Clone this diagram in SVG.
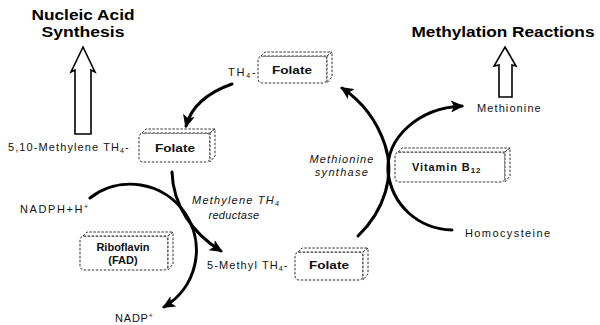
<svg xmlns="http://www.w3.org/2000/svg" width="600" height="325" viewBox="0 0 600 325">
<style>
.title{font-family:"Liberation Sans",Arial,sans-serif;font-weight:bold;font-size:14px;fill:#000}
.lbl{font-family:"Liberation Sans",Arial,sans-serif;font-size:11px;fill:#111}
.ital{font-family:"Liberation Sans",Arial,sans-serif;font-style:italic;font-size:11px;fill:#111}
.btxt{font-family:"Liberation Sans",Arial,sans-serif;font-weight:bold;font-size:11px;fill:#111}
.box{fill:#fff;stroke:#333;stroke-width:1;stroke-dasharray:2.5 1.5}
.conn{fill:none;stroke:#000;stroke-width:3;stroke-linecap:round}
.hollow{fill:#fff;stroke:#000;stroke-width:1.6;stroke-linejoin:miter}
</style>
<defs>
<marker id="ah" markerWidth="15" markerHeight="12" refX="11" refY="6" orient="auto" markerUnits="userSpaceOnUse">
<path d="M0,0 L13,6 L0,12 L3,6 Z" fill="#000"/>
</marker>
</defs>

<g id="title-nucleic">
<text class="title" x="83" y="20" text-anchor="middle" textLength="103" lengthAdjust="spacingAndGlyphs">Nucleic Acid</text>
<text class="title" x="83" y="37" text-anchor="middle" textLength="83" lengthAdjust="spacingAndGlyphs">Synthesis</text>
<polygon class="hollow" points="83,47 95,72 91,70 91,134 75,134 75,70 71,72"/>
</g>

<g id="title-methylation">
<text class="title" x="503" y="37" text-anchor="middle" textLength="183" lengthAdjust="spacingAndGlyphs">Methylation Reactions</text>
<polygon class="hollow" points="505,47 516,66 512,65 512,97 499,97 499,65 494,66"/>
</g>

<g id="folate-top">
<rect class="box" x="258" y="56" width="69" height="27" rx="4"/>
<polygon class="box" points="261,56 265,52 332,52 327,56"/>
<polygon class="box" points="327,56 332,52 332,77 327,83"/>
<text class="btxt" x="292" y="74" text-anchor="middle" textLength="40" lengthAdjust="spacingAndGlyphs">Folate</text>
<text class="lbl" x="228" y="76" letter-spacing="1.8">TH<tspan font-size="7" dy="2">4</tspan><tspan dy="-2">-</tspan></text>
</g>

<g id="folate-left">
<rect class="box" x="139" y="133" width="71" height="29" rx="4"/>
<polygon class="box" points="142,133 146,129 215,129 210,133"/>
<polygon class="box" points="210,133 215,129 215,156 210,162"/>
<text class="btxt" x="175" y="152" text-anchor="middle" textLength="40" lengthAdjust="spacingAndGlyphs">Folate</text>
<text class="lbl" x="8" y="151" font-size="11.5" letter-spacing="1.1">5,10-Methylene TH<tspan font-size="7" dy="2">4</tspan><tspan dy="-2">-</tspan></text>
</g>

<g id="folate-bottom">
<rect class="box" x="295" y="252" width="68" height="28" rx="4"/>
<polygon class="box" points="298,252 302,248 368,248 363,252"/>
<polygon class="box" points="363,252 368,248 368,274 363,280"/>
<text class="btxt" x="329" y="269" text-anchor="middle" textLength="40" lengthAdjust="spacingAndGlyphs">Folate</text>
<text class="lbl" x="207" y="269" font-size="11.5" letter-spacing="1.1">5-Methyl TH<tspan font-size="7" dy="2">4</tspan><tspan dy="-2">-</tspan></text>
</g>

<g id="vitamin-b12">
<rect class="box" x="395" y="152" width="110" height="30" rx="4"/>
<polygon class="box" points="398,152 402,148 510,148 505,152"/>
<polygon class="box" points="505,152 510,148 510,176 505,182"/>
<text class="btxt" x="412" y="171" font-size="12" letter-spacing="0.9">Vitamin B<tspan font-size="8" dy="2">12</tspan></text>
</g>

<g id="riboflavin">
<rect class="box" x="80" y="236" width="88" height="34" rx="4"/>
<polygon class="box" points="83,236 87,232 173,232 168,236"/>
<polygon class="box" points="168,236 173,232 173,264 168,270"/>
<text class="btxt" x="123" y="251" text-anchor="middle" font-size="9.5">Riboflavin</text>
<text class="btxt" x="123" y="264" text-anchor="middle" font-size="9.5">(FAD)</text>
</g>

<g id="labels">
<text class="ital" x="342" y="163" text-anchor="middle" letter-spacing="1.1">Methionine</text>
<text class="ital" x="342" y="176" text-anchor="middle" letter-spacing="1.3">synthase</text>
<text class="ital" x="236" y="204" text-anchor="middle" letter-spacing="1.2">Methylene TH<tspan font-size="7" dy="2">4</tspan></text>
<text class="ital" x="234" y="219" text-anchor="middle" letter-spacing="0.3">reductase</text>
<text class="lbl" x="477" y="112" letter-spacing="1.1">Methionine</text>
<text class="lbl" x="465" y="237" letter-spacing="1.4">Homocysteine</text>
<text class="lbl" x="20" y="213" letter-spacing="1.6">NADPH+H<tspan font-size="7" dy="-4">+</tspan></text>
<text class="lbl" x="115" y="322" letter-spacing="0.8">NADP<tspan font-size="7" dy="-4">+</tspan></text>
</g>

<g id="connectors">
<path class="conn" d="M232,84 C212,91 192,104 186,126" marker-end="url(#ah)"/>
<path class="conn" d="M358,236 C385,210 395,175 385,145 C376,118 360,100 342,88" marker-end="url(#ah)"/>
<path class="conn" d="M452,230 C418,229 392,205 388,172 C386,138 418,108 462,106" marker-end="url(#ah)"/>
<path class="conn" d="M172,172 C173,205 192,233 221,251" marker-end="url(#ah)"/>
<path class="conn" d="M90,198 A66,66 0 1 1 164,307" marker-end="url(#ah)"/>
</g>
</svg>
